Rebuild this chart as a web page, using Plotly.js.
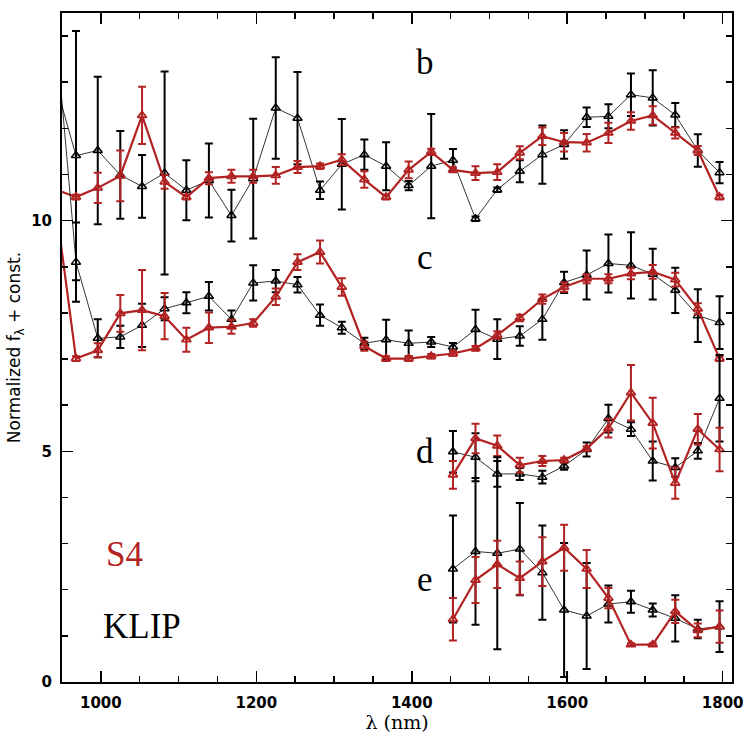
<!DOCTYPE html>
<html>
<head>
<meta charset="utf-8">
<script src="https://cdn.plot.ly/plotly-3.0.1.min.js"></script>
<style>html,body{margin:0;padding:0;background:#fff;}#chart{width:751px;height:733px;}</style>
</head>
<body>
<div id="chart"></div>
<script>
// wavelengths (nm); first value lies left of the plotted range
const wlFull = [939, 968, 996, 1025, 1053, 1082, 1110, 1139, 1168, 1196, 1225, 1253, 1282, 1310, 1339,
                1367, 1396, 1425, 1453, 1482, 1510, 1539, 1568, 1596, 1625, 1653, 1682, 1710, 1739, 1768, 1796];
const wlRed = [1453, 1482, 1510, 1539, 1568, 1596, 1625, 1653, 1682, 1710, 1739, 1768, 1796];

// series b
const bKlip    = [13.13, 11.41, 11.52, 10.99, 10.74, 11.03, 10.66, 10.87, 10.11, 10.91, 12.44, 12.22, 10.66, 11.22, 11.43,
                  11.18, 10.76, 11.18, 11.31, 10.04, 10.67, 11.07, 11.43, 11.65, 12.24, 12.26, 12.73, 12.66, 12.29, 11.52, 11.04];
const bKlipErr = [0, 2.70, 1.60, 0.95, 0.68, 2.20, 0.65, 0.80, 0.56, 1.30, 1.10, 1.00, 0.19, 0.98, 0.33,
                  0.52, 0.10, 1.13, 0.24, 0.05, 0.05, 0.24, 0.63, 0.31, 0.21, 0.26, 0.46, 0.60, 0.26, 0.35, 0.23];
const bS4      = [10.69, 10.51, 10.71, 10.97, 12.28, 10.84, 10.51, 10.92, 10.96, 10.96, 10.98, 11.16, 11.18, 11.32, 10.89,
                  10.51, 11.10, 11.49, 11.10, 11.03, 11.05, 11.47, 11.83, 11.70, 11.69, 11.90, 12.16, 12.28, 11.90, 11.52, 10.51];
const bS4Err   = [0, 0.05, 0.33, 0.55, 0.62, 0.15, 0.05, 0.13, 0.14, 0.14, 0.18, 0.13, 0.06, 0.12, 0.18,
                  0.05, 0.18, 0.07, 0.05, 0.15, 0.17, 0.14, 0.19, 0.20, 0.19, 0.22, 0.19, 0.20, 0.12, 0.10, 0.05];

// series c
const cKlip    = [14.70, 9.10, 7.45, 7.48, 7.73, 8.09, 8.22, 8.36, 7.86, 8.65, 8.69, 8.61, 7.95, 7.68, 7.34,
                  7.42, 7.34, 7.37, 7.26, 7.64, 7.43, 7.50, 7.86, 8.66, 8.82, 9.07, 9.03, 8.84, 8.49, 7.94, 7.79];
const cKlipErr = [0, 0.86, 0.41, 0.24, 0.47, 0.25, 0.23, 0.31, 0.19, 0.38, 0.24, 0.17, 0.23, 0.13, 0.12,
                  0.43, 0.28, 0.11, 0.09, 0.43, 0.43, 0.21, 0.44, 0.23, 0.53, 0.63, 0.72, 0.55, 0.49, 0.57, 0.57];
const cS4      = [10.72, 7.01, 7.19, 7.99, 8.06, 7.93, 7.42, 7.68, 7.70, 7.78, 8.35, 9.10, 9.32, 8.56, 7.28,
                  7.01, 7.01, 7.06, 7.12, 7.23, 7.52, 7.89, 8.30, 8.56, 8.74, 8.74, 8.85, 8.89, 8.72, 8.09, 7.01];
const cS4Err   = [0, 0.05, 0.15, 0.40, 0.87, 0.50, 0.26, 0.33, 0.15, 0.08, 0.18, 0.17, 0.25, 0.19, 0.10,
                  0.05, 0.05, 0.05, 0.05, 0.05, 0.08, 0.07, 0.10, 0.10, 0.10, 0.10, 0.12, 0.15, 0.15, 0.12, 0.05];

// series d
const dKlip    = [4.99, 4.87, 4.51, 4.51, 4.44, 4.68, 5.04, 5.71, 5.48, 4.79, 4.65, 5.01, 6.15];
const dKlipErr = [0.45, 0.52, 0.28, 0.13, 0.14, 0.08, 0.15, 0.30, 0.15, 0.42, 0.20, 0.17, 0.94];
const dS4      = [4.49, 5.28, 5.12, 4.70, 4.79, 4.81, 5.06, 5.50, 6.27, 5.61, 4.31, 5.48, 5.04];
const dS4Err   = [0.30, 0.32, 0.22, 0.16, 0.11, 0.05, 0.05, 0.20, 0.60, 0.55, 0.34, 0.33, 0.47];

// series e
const eKlip    = [2.45, 2.83, 2.79, 2.88, 2.37, 1.56, 1.43, 1.69, 1.74, 1.56, 1.38, 1.15, 1.20];
const eKlipErr = [1.16, 1.59, 2.08, 1.00, 1.02, 1.45, 1.15, 0.40, 0.24, 0.14, 0.50, 0.20, 0.55];
const eS4      = [1.36, 2.21, 2.55, 2.25, 2.61, 2.91, 2.45, 1.82, 0.81, 0.81, 1.53, 1.12, 1.20];
const eS4Err   = [0.46, 0.50, 0.51, 0.36, 0.53, 0.50, 0.41, 0.22, 0.03, 0.03, 0.25, 0.15, 0.35];

const labels = ['b', 'c', 'd', 'e'];
const methodNames = ['S4', 'KLIP'];

const RED = '#b22222';
const BLACK = '#000000';

function klipTrace(x, y, err) {
  return {
    x: x, y: y, type: 'scatter', mode: 'lines+markers', showlegend: false,
    line: {color: BLACK, width: 0.8},
    marker: {symbol: 'triangle-up-open', size: 8, color: BLACK, line: {width: 1.5, color: BLACK}},
    error_y: {type: 'data', array: err, visible: true, color: BLACK, thickness: 2, width: 4}
  };
}
function s4Trace(x, y, err) {
  return {
    x: x, y: y, type: 'scatter', mode: 'lines+markers', showlegend: false,
    line: {color: RED, width: 2.2},
    marker: {symbol: 'triangle-up-open', size: 8, color: RED, line: {width: 1.8, color: RED}},
    error_y: {type: 'data', array: err, visible: true, color: RED, thickness: 2, width: 4}
  };
}

const data = [
  klipTrace(wlFull, bKlip, bKlipErr), s4Trace(wlFull, bS4, bS4Err),
  klipTrace(wlFull, cKlip, cKlipErr), s4Trace(wlFull, cS4, cS4Err),
  klipTrace(wlRed, dKlip, dKlipErr), s4Trace(wlRed, dS4, dS4Err),
  klipTrace(wlRed, eKlip, eKlipErr), s4Trace(wlRed, eS4, eS4Err)
];

const tickFont = {family: 'DejaVu Sans', size: 15, color: '#000', weight: 'bold'};
const serif = 'Liberation Serif, Times New Roman, serif';

const labelY = [13.42, 9.2, 5.0, 2.22];
const annotations = labels.map((t, i) => ({
  x: 1417, y: labelY[i], xref: 'x', yref: 'y', text: t, showarrow: false,
  font: {family: serif, size: 35, color: '#000'}
}));
annotations.push({x: 1030, y: 2.77, xref: 'x', yref: 'y', text: methodNames[0], showarrow: false,
  font: {family: serif, size: 35, color: RED}});
annotations.push({x: 1053, y: 1.2, xref: 'x', yref: 'y', text: methodNames[1], showarrow: false,
  font: {family: serif, size: 35, color: '#000'}});

const layout = {
  width: 751, height: 733,
  margin: {l: 62, r: 19, t: 13, b: 51},
  paper_bgcolor: '#fff', plot_bgcolor: '#fff',
  showlegend: false,
  xaxis: {
    range: [950, 1812], showgrid: false, zeroline: false,
    showline: true, linecolor: '#000', linewidth: 2, mirror: 'allticks',
    ticks: 'inside', ticklen: 11, tickwidth: 1.5, tickcolor: '#000',
    tick0: 1000, dtick: 200, tickfont: tickFont, ticklabelstandoff: 6,
    minor: {ticks: 'inside', dtick: 50, ticklen: 6, tickwidth: 1.5, tickcolor: '#000', showgrid: false},
    title: {text: 'λ (nm)', font: {family: 'DejaVu Serif', size: 19, color: '#000'}, standoff: 2}
  },
  yaxis: {
    range: [0, 14.5], showgrid: false, zeroline: false,
    showline: true, linecolor: '#000', linewidth: 2, mirror: 'allticks',
    ticks: 'inside', ticklen: 11, tickwidth: 1.5, tickcolor: '#000',
    tick0: 0, dtick: 5, tickfont: tickFont, ticklabelstandoff: 5,
    minor: {ticks: 'inside', dtick: 1, ticklen: 6, tickwidth: 1.5, tickcolor: '#000', showgrid: false},
    title: {text: 'Normalized f<sub>λ</sub> + const.', font: {family: 'DejaVu Sans', size: 17, color: '#000'}, standoff: 6}
  },
  annotations: annotations
};

Plotly.newPlot('chart', data, layout, {displayModeBar: false, staticPlot: true});
</script>
</body>
</html>
